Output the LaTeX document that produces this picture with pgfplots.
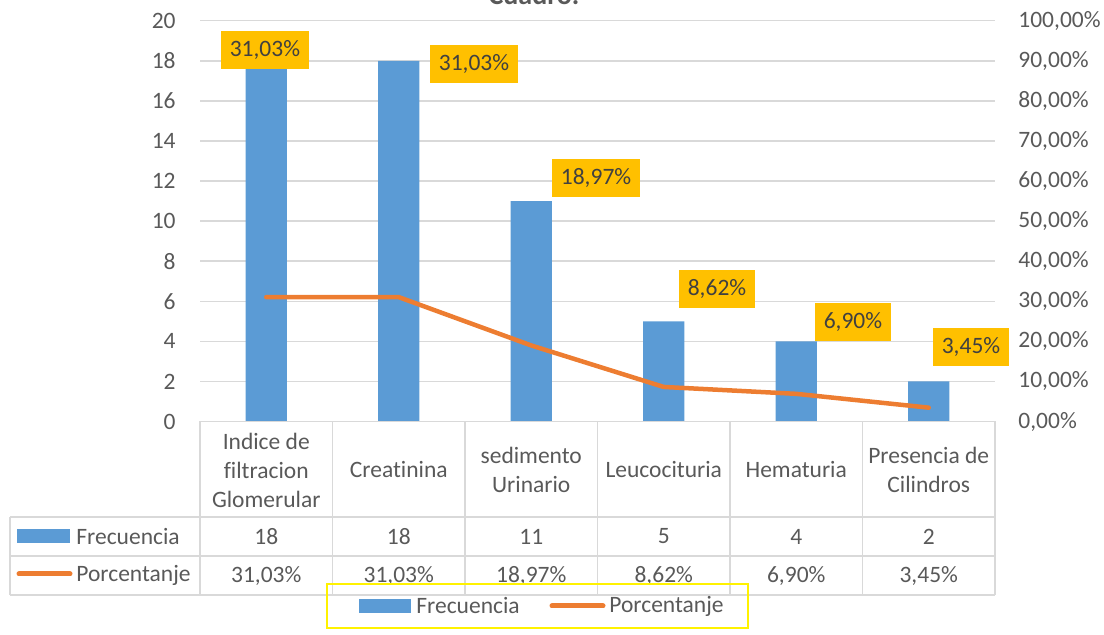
\documentclass[border=0pt]{standalone}
\usepackage{pgfplots}
\pgfplotsset{compat=1.18}
\usepackage{fontspec}
\setmainfont{Carlito}[Ligatures=NoCommon]
\definecolor{barblue}{HTML}{5B9BD5}
\definecolor{lineor}{HTML}{ED7D31}
\definecolor{gold}{HTML}{FFC000}
\definecolor{gridc}{HTML}{D9D9D9}
\definecolor{txt}{HTML}{595959}
\definecolor{lbl}{HTML}{404040}
\newcommand{\fs}{\fontsize{11.75}{14.5}\selectfont}
\begin{document}
\begin{tikzpicture}

\begin{axis}[
  at={(100pt,-210.75pt)}, anchor=south west,
  scale only axis, width=397.5pt, height=200.4pt,
  xmin=-0.5, xmax=5.5, ymin=0, ymax=20,
  xtick=\empty,
  ytick={0,2,...,20},
  yticklabels={0,2,4,6,8,10,12,14,16,18,20},
  ymajorgrids, grid style={gridc, line width=0.75pt},
  axis line style={draw=none},
  major tick length=0pt,
  yticklabel style={font=\fs, text=txt, inner sep=0pt, anchor=east, xshift=-12pt},
  clip=false,
]
\addplot[ybar, bar width=20.65pt, fill=barblue, draw=none] coordinates {(0,18) (1,18) (2,11) (3,5) (4,4) (5,2)};
\end{axis}

\begin{axis}[
  at={(100pt,-210.75pt)}, anchor=south west,
  scale only axis, width=397.5pt, height=200.4pt,
  xmin=-0.5, xmax=5.5, ymin=0, ymax=100,
  xtick=\empty,
  ytick={0,10,...,100},
  yticklabels={{0,00\%},{10,00\%},{20,00\%},{30,00\%},{40,00\%},{50,00\%},{60,00\%},{70,00\%},{80,00\%},{90,00\%},{100,00\%}},
  yticklabel pos=right,
  axis line style={draw=none},
  major tick length=0pt,
  yticklabel style={font=\fs, text=txt, inner sep=0pt, anchor=west, xshift=11.5pt},
  clip=false,
]
\addplot[lineor, line width=2.25pt, line cap=round, line join=round] coordinates {(0,31.03) (1,31.03) (2,18.97) (3,8.62) (4,6.90) (5,3.45)};
\addplot[draw=none, mark=none, nodes near coords, point meta=explicit symbolic,
  nodes near coords align={center},
  every node near coord/.append style={anchor=center, fill=gold, text=lbl, font=\fs, inner xsep=4.4pt, inner ysep=0pt, minimum height=19pt}]
  coordinates {(-0.01,92.7) [{31,03\%}] (1.568,89.2) [{31,03\%}] (2.489,60.75) [{18,97\%}] (3.402,33.05) [{8,62\%}] (4.428,24.85) [{6,90\%}] (5.319,18.6) [{3,45\%}]};
\end{axis}

\begin{scope}[x=0.5pt,y=-0.5pt]
  \begin{scope}[gridc, line width=0.75pt]
  \draw (200,421.5) -- (995,421.5);
  \foreach \y in {517,556,595} \draw (10,\y) -- (995,\y);
  \draw (10,517) -- (10,595);
  \foreach \x in {200,332.5,465,597.5,730,862.5,995} \draw (\x,421.5) -- (\x,595);
  \end{scope}
  \begin{scope}[every node/.style={align=center, text=txt, font=\fs, inner sep=0pt}]
  \node at (266.25,470) {Indice de\\filtracion\\Glomerular};
  \node at (398.75,470) {Creatinina};
  \node at (531.25,470) {sedimento\\Urinario};
  \node at (663.75,470) {Leucocituria};
  \node at (796.25,470) {Hematuria};
  \node at (928.75,470) {Presencia de\\Cilindros};
  \foreach \x/\v in {266.25/18,398.75/18,531.25/11,663.75/5,796.25/4,928.75/2}
    \node at (\x,536.5) {\v};
  \foreach \x/\v in {266.25/{31,03\%},398.75/{31,03\%},531.25/{18,97\%},663.75/{8,62\%},796.25/{6,90\%},928.75/{3,45\%}}
    \node at (\x,575.5) {\v};
  \node[anchor=west] at (76,536.5) {Frecuencia};
  \node[anchor=west] at (76,575.5) {Porcentanje};
  \node[anchor=west] at (416,606) {Frecuencia};
  \node[anchor=west] at (609,606) {Porcentanje};
  \node[anchor=base, font=\fontsize{14}{16}\selectfont\bfseries] at (534,4.5) {Cuadro.};
  \end{scope}
  \fill[barblue] (17,529) rectangle (70,543);
  \draw[lineor, line width=2.5pt, line cap=round] (19,574) -- (70,574);
  \fill[barblue] (359,599) rectangle (411,613);
  \draw[lineor, line width=2.5pt, line cap=round] (552,606) -- (603,606);
  \draw[yellow, line width=1pt] (327,584) rectangle (748,628);
  \pgfresetboundingbox
  \path (0,0) rectangle (1104,635);
\end{scope}
\end{tikzpicture}
\end{document}
